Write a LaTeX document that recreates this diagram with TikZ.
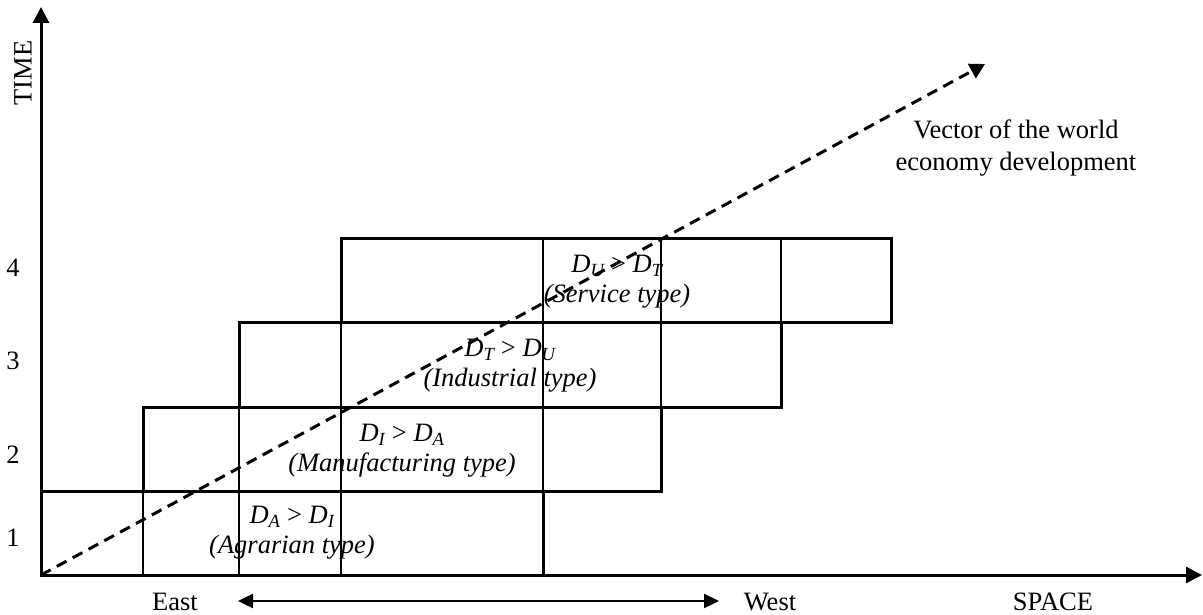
\documentclass[tikz,border=0pt]{standalone}
\usepackage{fontspec}
\setmainfont{Liberation Serif}
\usetikzlibrary{arrows.meta}
\begin{document}
\begin{tikzpicture}[x=1pt,y=-1pt,
  every node/.style={font=\fontsize{26.5}{32}\selectfont, inner sep=0pt},
  axis/.style={line width=3pt, -{Triangle[width=16pt,length=16pt]}},
  outline/.style={line width=3pt},
  thin/.style={line width=1.6pt},
  vector/.style={line width=3pt, dash pattern=on 11pt off 7pt, -{Triangle[width=16pt,length=15pt]}},
  ew/.style={line width=2.4pt, {Triangle[width=14pt,length=15pt]}-{Triangle[width=14pt,length=15pt]}},
  lbl/.style={align=center}]
\useasboundingbox (0,0) rectangle (1203,615);
% coordinates
\coordinate (O) at (41,575);
\coordinate (Ytop) at (41,7);
\coordinate (Xend) at (1202,575);
\coordinate (Vend) at (985,64);
\coordinate (ewL) at (238,601);
\coordinate (ewR) at (719,601);
% thin inner verticals
\draw[thin] (143,491) -- (143,575) (239,491) -- (239,575) (341,491) -- (341,575);
\draw[thin] (239,407) -- (239,491) (341,407) -- (341,491) (543,407) -- (543,491);
\draw[thin] (341,322) -- (341,407) (543,322) -- (543,407) (661,322) -- (661,407);
\draw[thin] (543,238) -- (543,322) (661,238) -- (661,322) (781,238) -- (781,322);
% rows
\draw[outline] (41,491) rectangle (543,575);
\draw[outline] (143,407) rectangle (661,491);
\draw[outline] (239,322) rectangle (781,407);
\draw[outline] (341,238) rectangle (891,322);
% labels in rows
\node[lbl] (r1) at (292,533) {\itshape D\textsubscript{A}\/ \upshape> \itshape D\textsubscript{I}\\[-2pt]\itshape (Agrarian type)};
\node[lbl] (r2) at (402,451) {\itshape D\textsubscript{I}\/ \upshape> \itshape D\textsubscript{A}\\[-2pt]\itshape (Manufacturing type)};
\node[lbl] (r3) at (510,366) {\itshape D\textsubscript{T}\/ \upshape> \itshape D\textsubscript{U}\\[-2pt]\itshape (Industrial type)};
\node[lbl] (r4) at (617,282) {\itshape D\textsubscript{U}\/ \upshape> \itshape D\textsubscript{T}\\[-2pt]\itshape (Service type)};
% axes
\draw[axis] (O) -- (Ytop);
\draw[axis] (O) -- (Xend);
% vector
\draw[vector] (O) -- (Vend);
\node[lbl] (vlab) at (1016,148) {Vector of the world\\economy development};
% axis labels
\node[rotate=90] (time) at (23,73) {TIME};
\node (n1) at (13,538) {1};
\node (n2) at (13,455) {2};
\node (n3) at (13,361) {3};
\node (n4) at (13,268) {4};
\node (east) at (175,602) {East};
\node (west) at (770,602) {West};
\node (space) at (1053,602) {SPACE};
\draw[ew] (ewL) -- (ewR);
\end{tikzpicture}
\end{document}
